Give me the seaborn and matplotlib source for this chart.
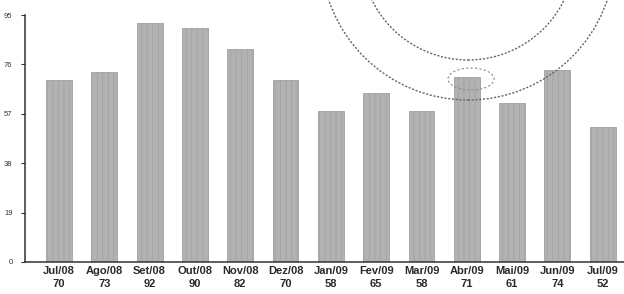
import matplotlib
matplotlib.use("Agg")
import matplotlib.pyplot as plt
import seaborn as sns
import pandas as pd
from matplotlib.patches import Ellipse

months = ["Jul/08", "Ago/08", "Set/08", "Out/08", "Nov/08", "Dez/08", "Jan/09",
          "Fev/09", "Mar/09", "Abr/09", "Mai/09", "Jun/09", "Jul/09"]
values = [70, 73, 92, 90, 82, 70, 58, 65, 58, 71, 61, 74, 52]
yticks = [0, 19, 38, 57, 76, 95]

sns.set_theme(style="white")
plt.rcParams['font.family'] = ['Liberation Sans', 'DejaVu Sans']
plt.rcParams['hatch.color'] = '#c8c8c8'
plt.rcParams['hatch.linewidth'] = 0.5

W, H = 624, 294
fig = plt.figure(figsize=(W / 100, H / 100), dpi=100)
ax = fig.add_axes([25 / W, 1 - 262 / H, 1 - 25 / W, (262 - 15) / H])

df = pd.DataFrame({"month": months, "value": values})
sns.barplot(data=df, x="month", y="value", ax=ax, color="#b2b2b2",
            width=0.57, saturation=1, edgecolor="#a0a0a0", linewidth=0.6)
for p in ax.patches:
    p.set_hatch("|||")

ax.set_xlim(-0.75, 12.47)
ax.set_ylim(0, 95)
ax.set_yticks(yticks)
ax.set_yticklabels([str(t) for t in yticks], fontsize=5.5, color="#333333")
ax.set_xticks(range(len(months)))
ax.set_xticklabels([f"{m}\n{v}" for m, v in zip(months, values)],
                   fontsize=8, color="#2a2a2a", linespacing=1.35,
                   fontweight="bold")
ax.tick_params(axis="y", length=3, width=0.8, color="#333333", pad=6, left=True)
ax.tick_params(axis="x", length=0, pad=3)
ax.set_xlabel("")
ax.set_ylabel("")
for s in ["top", "right"]:
    ax.spines[s].set_visible(False)
for s in ["left", "bottom"]:
    ax.spines[s].set_color("#333333")
    ax.spines[s].set_linewidth(1.1)

# scanned stamp-like dashed circles (decoration, figure pixel coords)
def px(x, y):
    return (x / W, 1 - y / H)

for r in (107, 147):
    e = Ellipse(px(468, -47), 2 * r / W, 2 * r / H, transform=fig.transFigure,
                fill=False, linestyle=(0, (1.5, 1.2)), linewidth=1.0,
                edgecolor="#666666", clip_on=False)
    fig.add_artist(e)
e2 = Ellipse(px(471, 79), 46 / W, 22 / H, transform=fig.transFigure, fill=False,
             linestyle=(0, (2, 2)), linewidth=0.8, edgecolor="#888888")
fig.add_artist(e2)

fig.savefig("out.png", dpi=100)
